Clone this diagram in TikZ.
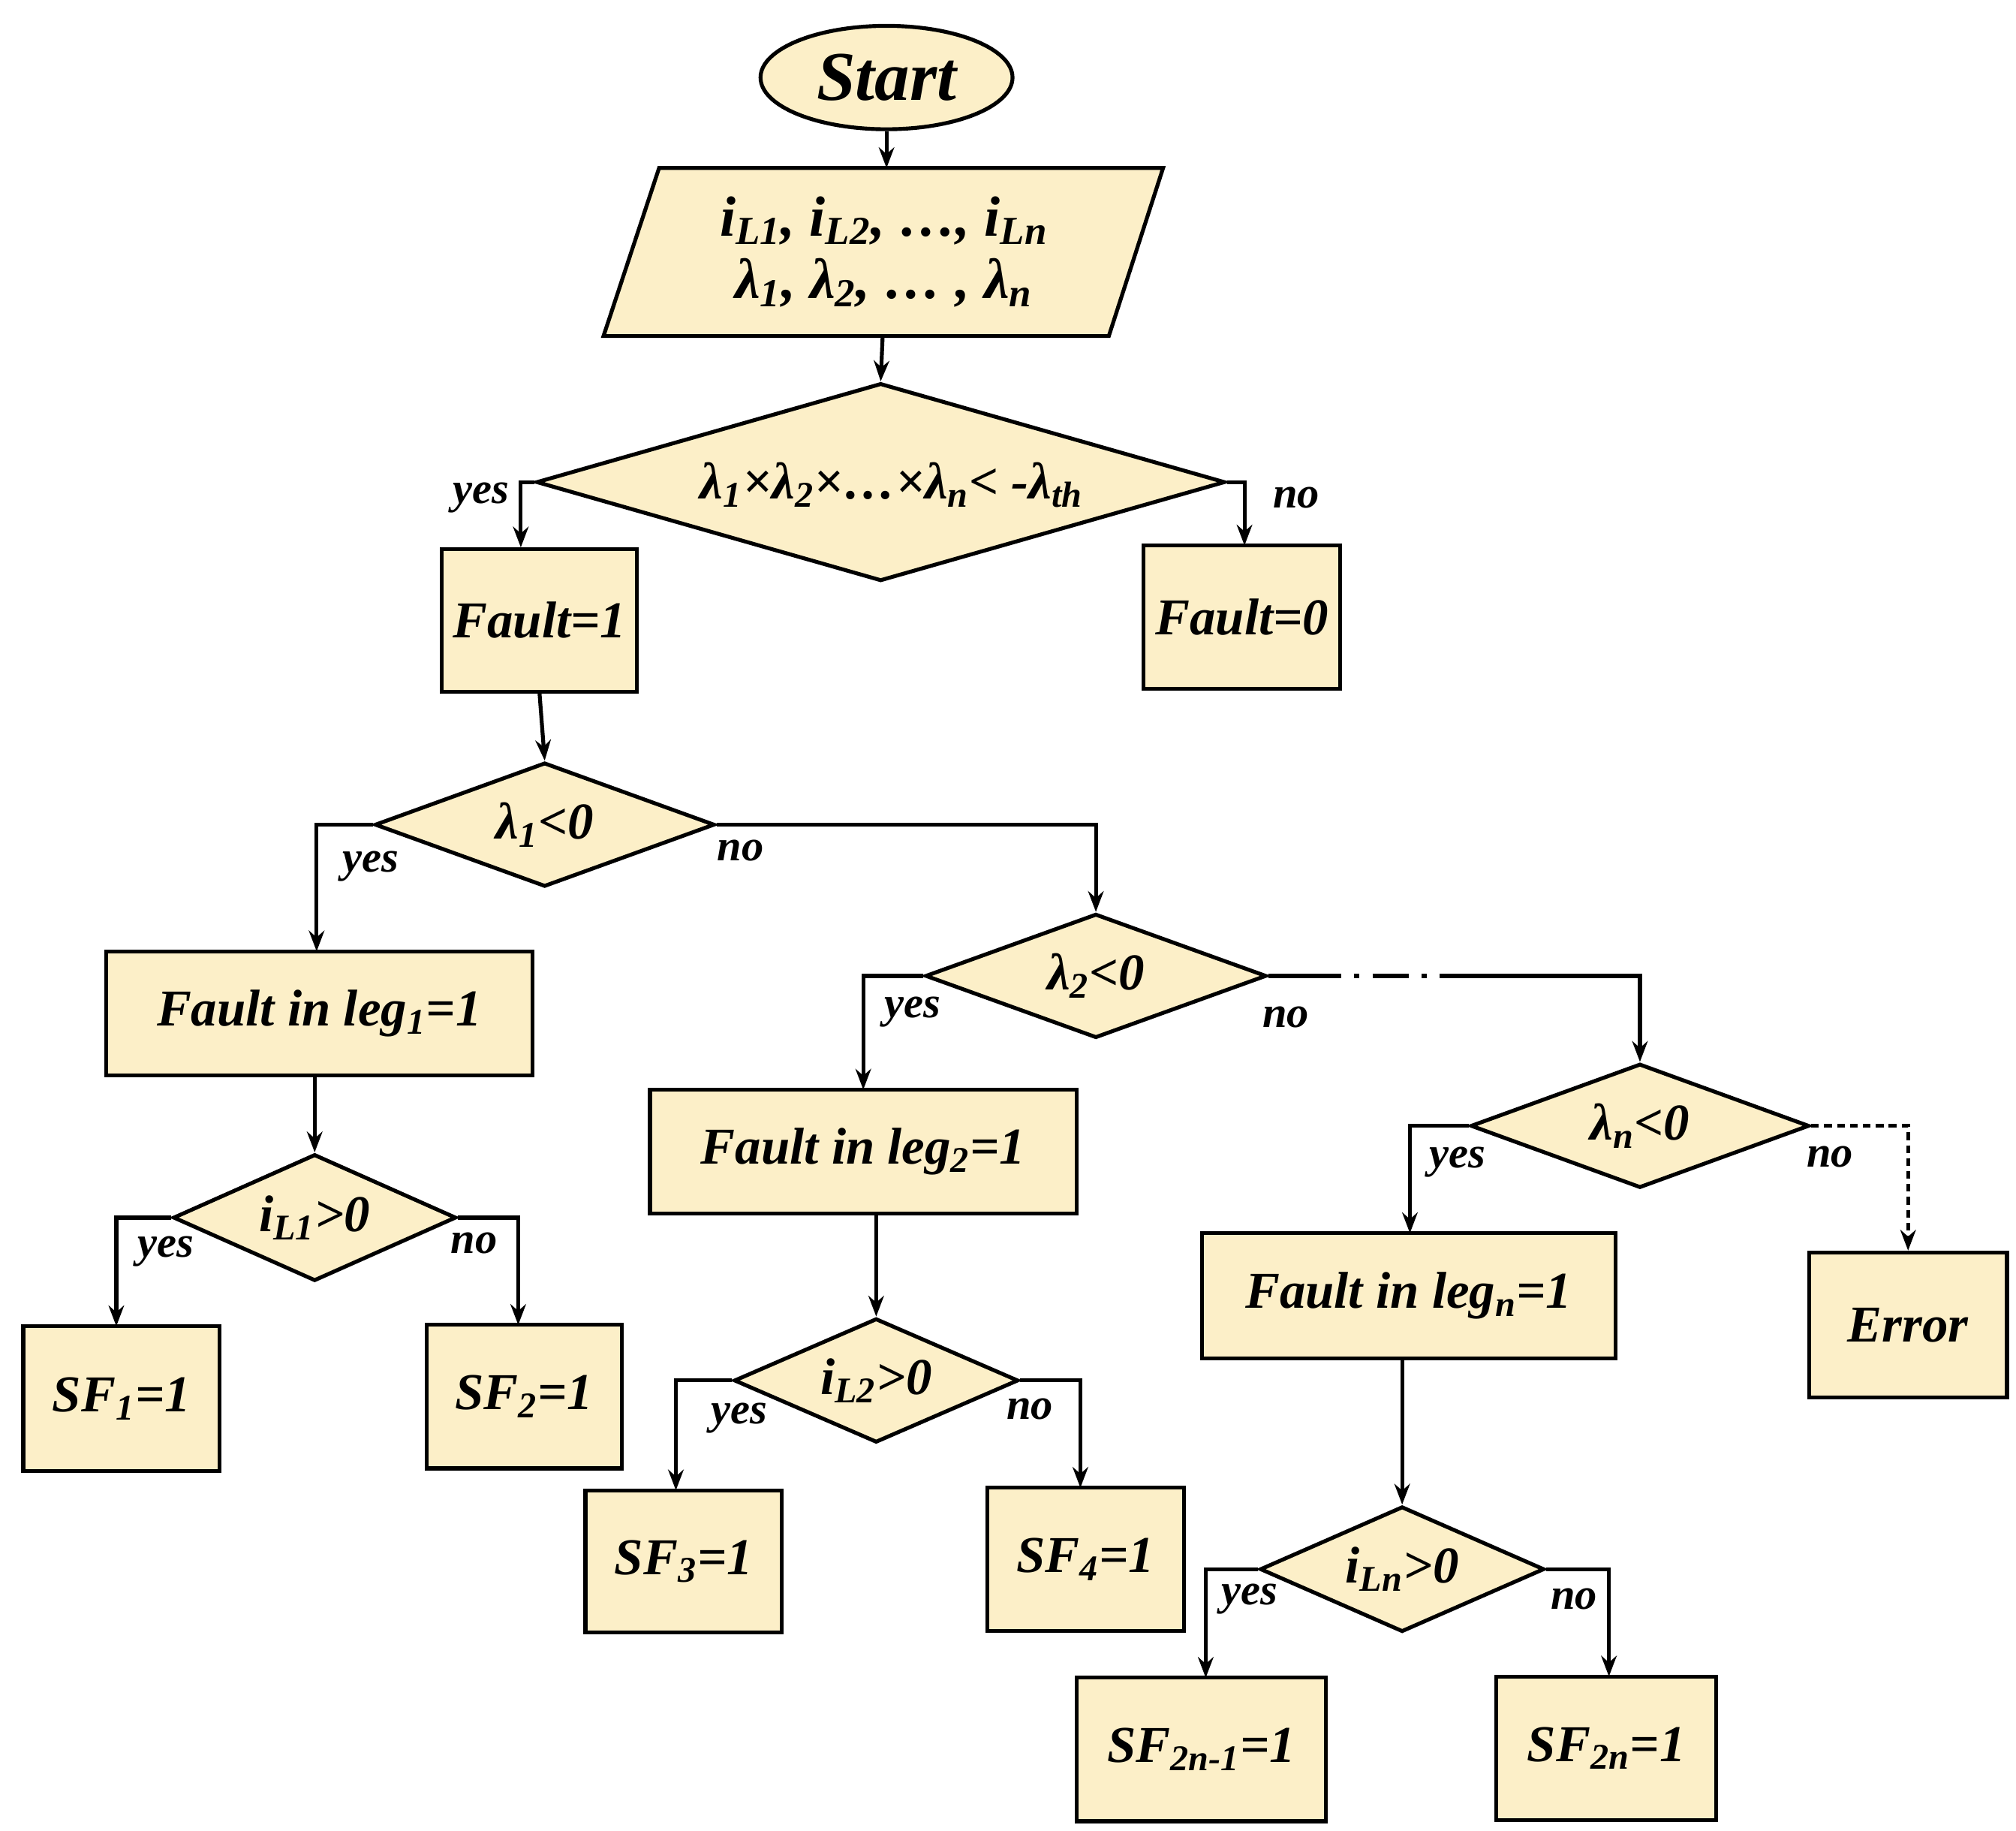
\documentclass[tikz,border=0pt]{standalone}
\usepackage{fontspec}
\setmainfont{Liberation Serif}
\usetikzlibrary{shapes.geometric,arrows.meta}
\definecolor{fillc}{HTML}{FCEFC8}
\begin{document}
\begin{tikzpicture}[x=0.5pt,y=-0.5pt,
 every node/.style={font=\fontsize{20}{24}\selectfont\bfseries\itshape},
 box/.style={draw,line width=1.5pt,fill=fillc,inner sep=0pt},
 dia/.style={draw,line width=1.5pt,fill=fillc,diamond,inner sep=0pt},
 lab/.style={font=\fontsize{17}{20}\selectfont\bfseries\itshape},
 con/.style={line width=1.5pt,-{Stealth[length=8pt,width=6pt]}}]
\useasboundingbox (0,0) rectangle (1560,1416);
% start
\node[box,ellipse,minimum width=97.5pt,minimum height=40pt,font=\fontsize{27}{30}\selectfont\bfseries\itshape] (start) at (686,60) {Start};
% parallelogram
\draw[line width=1.5pt,fill=fillc] (510,130) -- (900,130) -- (858,260) -- (467,260) -- cycle;
\node[align=center] (para) at (684,195) {\fontsize{22}{30}\selectfont i\textsubscript{L1}, i\textsubscript{L2}, …, i\textsubscript{Ln}\\ \fontsize{22}{30}\selectfont λ\textsubscript{1}, λ\textsubscript{2}, … , λ\textsubscript{n}};
\coordinate (paratop) at (686,130);
\coordinate (parabot) at (683,260);
% decision 1
\node[dia,minimum width=266.5pt,minimum height=76.5pt,aspect=3.5] (d1) at (681.5,373) {};
\node at (690,375) {λ\textsubscript{1}×λ\textsubscript{2}×…×λ\textsubscript{n}< -λ\textsubscript{th}};
\node[box,minimum width=75.5pt,minimum height=55pt] (f1) at (417.5,480) {Fault=1};
\node[box,minimum width=76pt,minimum height=55.5pt] (f0) at (961,477.5) {Fault=0};
% lambda1
\node[dia,minimum width=131.5pt,minimum height=48pt,aspect=2.7] (l1) at (421.5,638) {λ\textsubscript{1}<0};
\node[box,minimum width=165pt,minimum height=48pt] (leg1) at (247,784) {Fault in leg\textsubscript{1}=1};
\node[dia,minimum width=109.5pt,minimum height=49pt,aspect=2.2] (i1) at (243.5,942) {i\textsubscript{L1}>0};
\node[box,minimum width=76pt,minimum height=56pt] (sf1) at (94,1082) {SF\textsubscript{1}=1};
\node[box,minimum width=75.5pt,minimum height=55.5pt] (sf2) at (405.5,1080.5) {SF\textsubscript{2}=1};
% lambda2
\node[dia,minimum width=132pt,minimum height=48pt,aspect=2.7] (l2) at (848,755) {λ\textsubscript{2}<0};
\node[box,minimum width=165pt,minimum height=48pt] (leg2) at (668,891) {Fault in leg\textsubscript{2}=1};
\node[dia,minimum width=110pt,minimum height=48pt,aspect=2.2] (i2) at (678,1068) {i\textsubscript{L2}>0};
\node[box,minimum width=76pt,minimum height=55pt] (sf3) at (529,1208) {SF\textsubscript{3}=1};
\node[box,minimum width=76pt,minimum height=55.5pt] (sf4) at (840,1206.5) {SF\textsubscript{4}=1};
% lambdan
\node[dia,minimum width=131pt,minimum height=48pt,aspect=2.7] (ln) at (1269,871) {λ\textsubscript{n}<0};
\node[box,minimum width=160pt,minimum height=48.5pt] (legn) at (1090,1002.5) {Fault in leg\textsubscript{n}=1};
\node[box,minimum width=76.5pt,minimum height=56pt] (err) at (1476.5,1025) {Error};
\node[dia,minimum width=110pt,minimum height=48.5pt,aspect=2.2] (in) at (1085,1214) {i\textsubscript{Ln}>0};
\node[box,minimum width=96.5pt,minimum height=55.5pt] (sf5) at (929.5,1353.5) {SF\textsubscript{2n-1}=1};
\node[box,minimum width=85pt,minimum height=55.5pt] (sf6) at (1243,1352.5) {SF\textsubscript{2n}=1};
% connectors
\draw[con] (start.south) -- (paratop);
\draw[con] (parabot) -- (d1.north);
\draw[con] (d1.west) -| (f1.north west -| 403,0) coordinate (a1);
\draw[con] (d1.east) -| (963,422);
\draw[con] (f1.south) -- (l1.north);
\draw[con] (l1.west) -| (245,736);
\draw[con] (l1.east) -| (l2.north);
\draw[con] (leg1.south -| i1.north) -- (i1.north);
\draw[con] (i1.west) -| (90,1026);
\draw[con] (i1.east) -| (401,1025);
\draw[con] (l2.west) -| (668,843);
\draw[line width=1.5pt] (l2.east) -- (1010,755);
\draw[line width=1.5pt,dash pattern=on 14pt off 5pt on 2pt off 5pt] (1010,755) -- (1140,755);
\draw[con] (1140,755) -| (ln.north);
\draw[con] (leg2.south -| i2.north) -- (i2.north);
\draw[con] (i2.west) -| (523,1153);
\draw[con] (i2.east) -| (836,1151);
\draw[con] (ln.west) -| (1091,954);
\draw[con,dash pattern=on 3pt off 2pt] (ln.east) -| (err.north);
\draw[con] (legn.south -| in.north) -- (in.north);
\draw[con] (in.west) -| (933,1298);
\draw[con] (in.east) -| (1245,1297);
% labels
\node[lab] at (372,385) {yes};
\node[lab] at (1003,385) {no};
\node[lab] at (287,670) {yes};
\node[lab] at (573,658) {no};
\node[lab] at (128,968) {yes};
\node[lab] at (367,962) {no};
\node[lab] at (706,783) {yes};
\node[lab] at (995,787) {no};
\node[lab] at (572,1097) {yes};
\node[lab] at (797,1090) {no};
\node[lab] at (1128,899) {yes};
\node[lab] at (1416,895) {no};
\node[lab] at (967,1237) {yes};
\node[lab] at (1218,1237) {no};
\end{tikzpicture}
\end{document}
